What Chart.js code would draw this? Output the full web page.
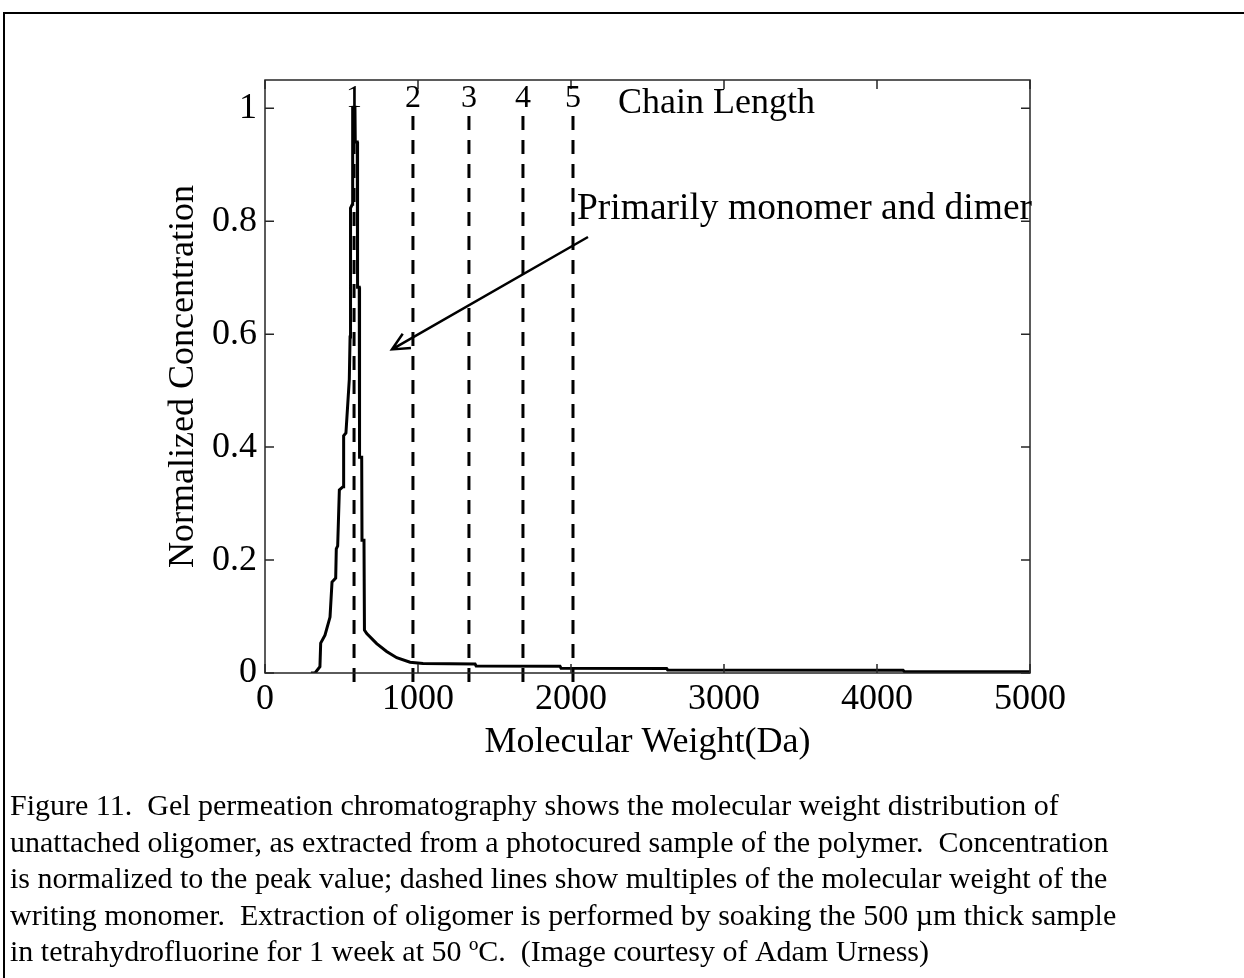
<!DOCTYPE html>
<html>
<head>
<meta charset="utf-8">
<script src="https://cdn.jsdelivr.net/npm/chart.js@4.4.1/dist/chart.umd.min.js"></script>
<style>
  html, body { margin: 0; padding: 0; background: #fff; }
  canvas { display: block; }
</style>
</head>
<body>
<canvas id="gpcChart" width="1244" height="978"></canvas>
<script>
// GPC trace (Da, normalized concentration)
const molWeight = [300, 327, 359, 364, 392, 425, 438, 462, 466, 475, 486, 510, 514, 529, 551, 556, 559, 571, 573, 588, 590, 603, 605, 616, 618, 632, 634, 647, 650, 665, 730, 795, 861, 948, 1033, 1373, 1380, 1928, 1935, 2625, 2632, 4170, 4180, 5000];
const concentration = [0, 0, 0.011, 0.053, 0.067, 0.099, 0.161, 0.168, 0.22, 0.225, 0.324, 0.33, 0.42, 0.425, 0.52, 0.595, 0.823, 0.83, 1.0, 1.0, 0.94, 0.94, 0.683, 0.683, 0.382, 0.382, 0.235, 0.235, 0.076, 0.07, 0.052, 0.038, 0.027, 0.019, 0.017, 0.016, 0.0125, 0.012, 0.0085, 0.008, 0.0055, 0.005, 0.0022, 0.0022];

// multiples of the monomer weight (dashed lines)
const chainLengths = ['1', '2', '3', '4', '5'];
const chainWeights = [582, 967, 1333, 1686, 2013];

const xTickValues = [0, 1000, 2000, 3000, 4000, 5000];
const yTickValues = [0, 0.2, 0.4, 0.6, 0.8, 1];

const captionLines = [
  'Figure 11.  Gel permeation chromatography shows the molecular weight distribution of',
  'unattached oligomer, as extracted from a photocured sample of the polymer.  Concentration',
  'is normalized to the peak value; dashed lines show multiples of the molecular weight of the',
  'writing monomer.  Extraction of oligomer is performed by soaking the 500 \u00b5m thick sample',
  'in tetrahydrofluorine for 1 week at 50 \u00baC.  (Image courtesy of Adam Urness)'
];

const serif = '"Liberation Serif", "Times New Roman", serif';

// annotation text and arrow, in data units
const noteText = 'Primarily monomer and dimer';
const notePos = { x: 2039, y: 0.803 };
const arrowFrom = { x: 2111, y: 0.772 };
const arrowTo = { x: 830, y: 0.573 };

const datasets = [{
    data: molWeight.map((m, i) => ({ x: m, y: concentration[i] })),
    borderColor: '#000',
    borderWidth: 3,
    pointRadius: 0,
    tension: 0,
    order: 2
}];
chainWeights.forEach(w => {
    datasets.push({
        data: [{ x: w, y: -0.016 }, { x: w, y: 0.995 }],
        borderColor: '#000',
        borderWidth: 3,
        borderDash: [14, 10],
        pointRadius: 0,
        clip: false,
        order: 1
    });
});

const figureDecor = {
    id: 'figureDecor',
    afterDraw(chart) {
        const { ctx, chartArea: a, scales: { x, y } } = chart;
        ctx.save();

        // outer figure frame (top and left edges visible)
        ctx.strokeStyle = '#000';
        ctx.lineWidth = 2;
        ctx.beginPath();
        ctx.moveTo(4, 978);
        ctx.lineTo(4, 13);
        ctx.lineTo(1244, 13);
        ctx.stroke();

        // axes box
        ctx.strokeStyle = '#262626';
        ctx.lineWidth = 1.5;
        ctx.strokeRect(a.left, a.top, a.right - a.left, a.bottom - a.top);

        // inward ticks on all four sides
        const tl = 9;
        ctx.beginPath();
        xTickValues.forEach(v => {
            const px = x.getPixelForValue(v);
            ctx.moveTo(px, a.bottom); ctx.lineTo(px, a.bottom - tl);
            ctx.moveTo(px, a.top); ctx.lineTo(px, a.top + tl);
        });
        yTickValues.forEach(v => {
            const py = y.getPixelForValue(v);
            ctx.moveTo(a.left, py); ctx.lineTo(a.left + tl, py);
            ctx.moveTo(a.right, py); ctx.lineTo(a.right - tl, py);
        });
        ctx.stroke();

        ctx.fillStyle = '#000';
        ctx.textBaseline = 'alphabetic';

        // chain length numbers above dashed lines
        ctx.font = '32px ' + serif;
        ctx.textAlign = 'center';
        chainWeights.forEach((w, i) => {
            ctx.fillText(chainLengths[i], x.getPixelForValue(w), y.getPixelForValue(1.002));
        });
        ctx.font = '36px ' + serif;
        ctx.textAlign = 'left';
        ctx.fillText('Chain Length', x.getPixelForValue(2307), y.getPixelForValue(0.991));

        // annotation + arrow
        ctx.font = '37.5px ' + serif;
        ctx.fillText(noteText, x.getPixelForValue(notePos.x), y.getPixelForValue(notePos.y));
        const x0 = x.getPixelForValue(arrowFrom.x), y0 = y.getPixelForValue(arrowFrom.y);
        const x1 = x.getPixelForValue(arrowTo.x), y1 = y.getPixelForValue(arrowTo.y);
        const ang = Math.atan2(y1 - y0, x1 - x0);
        const hl = 19, hw = 0.45;
        ctx.strokeStyle = '#000';
        ctx.lineWidth = 2.5;
        ctx.beginPath();
        ctx.moveTo(x0, y0); ctx.lineTo(x1, y1);
        ctx.moveTo(x1 - hl * Math.cos(ang - hw), y1 - hl * Math.sin(ang - hw));
        ctx.lineTo(x1, y1);
        ctx.lineTo(x1 - hl * Math.cos(ang + hw), y1 - hl * Math.sin(ang + hw));
        ctx.stroke();

        // caption
        ctx.font = '30px ' + serif;
        captionLines.forEach((line, i) => {
            ctx.fillText(line, 10, 815 + i * 36.5);
        });

        ctx.restore();
    }
};

const tickFont = { family: serif, size: 36 };
const titleFont = { family: serif, size: 36 };

new Chart(document.getElementById('gpcChart'), {
    type: 'line',
    data: { datasets: datasets },
    options: {
        responsive: false,
        animation: false,
        layout: { padding: { left: 162, top: 80, right: 214, bottom: 214 } },
        plugins: { legend: { display: false }, tooltip: { enabled: false } },
        scales: {
            x: {
                type: 'linear',
                min: 0,
                max: 5000,
                afterBuildTicks: s => { s.ticks = xTickValues.map(v => ({ value: v })); },
                afterFit: s => { s.height = 91; },
                grid: { display: false, drawTicks: false },
                border: { display: false },
                ticks: { padding: 5, font: tickFont, color: '#000', maxRotation: 0, autoSkip: false, callback: v => String(v) },
                title: { display: true, text: 'Molecular Weight(Da)', font: titleFont, color: '#000', padding: 0 }
            },
            y: {
                type: 'linear',
                min: 0,
                max: 1.05,
                afterBuildTicks: s => { s.ticks = yTickValues.map(v => ({ value: v })); },
                afterFit: s => { s.width = 103; },
                grid: { display: false, drawTicks: false },
                border: { display: false },
                ticks: { padding: 8, font: tickFont, color: '#000', autoSkip: false, callback: v => String(v) },
                title: { display: true, text: 'Normalized Concentration', font: titleFont, color: '#000', padding: 0 }
            }
        }
    },
    plugins: [figureDecor]
});
</script>
</body>
</html>
